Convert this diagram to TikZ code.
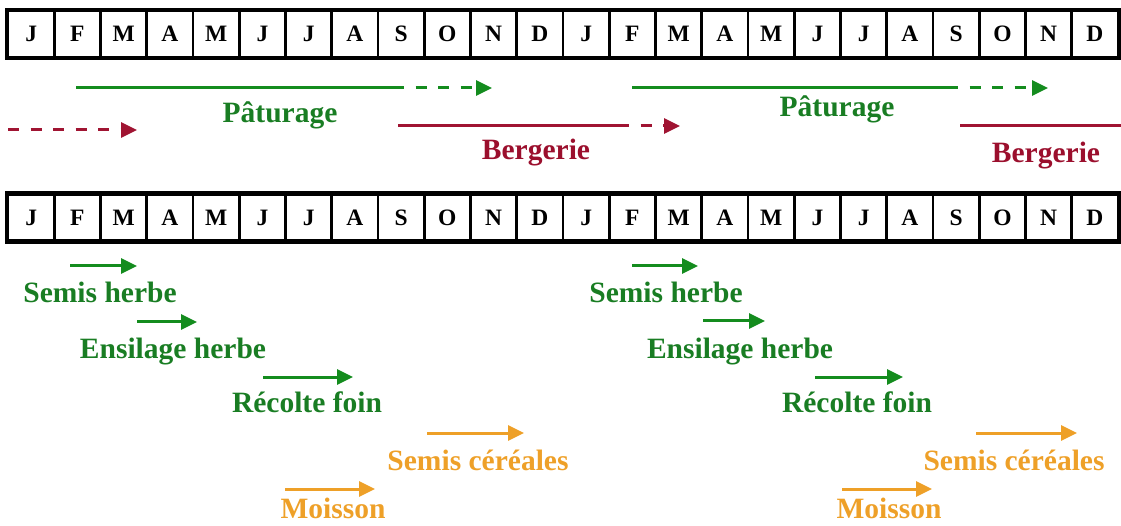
\documentclass[tikz,border=0pt]{standalone}
\usepackage{fontspec}
\setmainfont{Liberation Serif}
\usetikzlibrary{arrows.meta}
\definecolor{gtext}{RGB}{25,125,35}
\definecolor{garrow}{RGB}{20,140,30}
\definecolor{rtext}{RGB}{155,15,45}
\definecolor{rarrow}{RGB}{160,20,50}
\definecolor{orng}{RGB}{238,160,40}
\tikzset{
  month/.style={draw=black, line width=2.8pt, fill=white, minimum width=46.25pt, minimum height=46pt, inner sep=0pt, font=\fontsize{23.5}{24}\selectfont\bfseries},
  lbl/.style={anchor=base, inner sep=0pt, font=\fontsize{29.5}{30}\selectfont\bfseries},
  tip/.style={-{Triangle[length=16pt,width=15pt]}},
  arr/.style={line width=3pt, tip},
  plain/.style={line width=3pt},
  dsh/.style={line width=3pt, dash pattern=on 11pt off 11.5pt},
}
\begin{document}
\begin{tikzpicture}[x=1pt,y=-1pt]
\useasboundingbox (0,0) rectangle (1121,526);
% month bars
\foreach \m [count=\i] in {J,F,M,A,M,J,J,A,S,O,N,D,J,F,M,A,M,J,J,A,S,O,N,D}{
  \node[month] (t\i) at ({8+46.25*(\i-0.5)},34) {\m};
  \node[month] (b\i) at ({8+46.25*(\i-0.5)},217.5) {\m};
}
\draw[line width=3.4pt] (t1.north west) rectangle (t24.south east);
\draw[line width=3.4pt] (b1.north west) rectangle (b24.south east);

% top section coordinates
\coordinate (p1a) at (76,88);  \coordinate (p1b) at (393,88);  \coordinate (p1c) at (492,88);
\coordinate (p2a) at (632,88); \coordinate (p2b) at (947,88);  \coordinate (p2c) at (1048,88);
\coordinate (r0a) at (8,130);  \coordinate (r0b) at (137,130);
\coordinate (r1a) at (398,126); \coordinate (r1b) at (618,126); \coordinate (r1c) at (680,126);
\coordinate (r2a) at (960,126); \coordinate (r2b) at (1121,126);

\draw[plain, garrow] (p1a) -- (p1b);
\draw[dsh, garrow, tip] (p1b) -- (p1c);
\draw[plain, garrow] (p2a) -- (p2b);
\draw[dsh, garrow, tip] (p2b) -- (p2c);
\draw[dsh, rarrow, tip] (r0a) -- (r0b);
\draw[plain, rarrow] (r1a) -- (r1b);
\draw[dsh, rarrow, tip] (r1b) -- (r1c);
\draw[plain, rarrow] (r2a) -- (r2b);

\node[lbl, gtext] (pat1) at (280,123) {Pâturage};
\node[lbl, gtext] (pat2) at (837,117) {Pâturage};
\node[lbl, rtext] (ber1) at (536,160) {Bergerie};
\node[lbl, rtext] (ber2) at (1046,163) {Bergerie};

% bottom section arrows
\coordinate (sh1a) at (70,266);  \coordinate (sh1b) at (137,266);
\coordinate (eh1a) at (137,322); \coordinate (eh1b) at (197,322);
\coordinate (rf1a) at (263,377); \coordinate (rf1b) at (353,377);
\coordinate (sc1a) at (427,433); \coordinate (sc1b) at (524,433);
\coordinate (mo1a) at (285,489); \coordinate (mo1b) at (375,489);
\coordinate (sh2a) at (632,266); \coordinate (sh2b) at (698,266);
\coordinate (eh2a) at (703,321); \coordinate (eh2b) at (765,321);
\coordinate (rf2a) at (815,377); \coordinate (rf2b) at (903,377);
\coordinate (sc2a) at (976,433); \coordinate (sc2b) at (1077,433);
\coordinate (mo2a) at (842,489); \coordinate (mo2b) at (932,489);

\draw[arr, garrow] (sh1a) -- (sh1b);
\draw[arr, garrow] (eh1a) -- (eh1b);
\draw[arr, garrow] (rf1a) -- (rf1b);
\draw[arr, orng] (sc1a) -- (sc1b);
\draw[arr, orng] (mo1a) -- (mo1b);
\draw[arr, garrow] (sh2a) -- (sh2b);
\draw[arr, garrow] (eh2a) -- (eh2b);
\draw[arr, garrow] (rf2a) -- (rf2b);
\draw[arr, orng] (sc2a) -- (sc2b);
\draw[arr, orng] (mo2a) -- (mo2b);

\node[lbl, gtext] (shl1) at (100,303) {Semis herbe};
\node[lbl, gtext] (ehl1) at (173,358) {Ensilage herbe};
\node[lbl, gtext] (rfl1) at (307,412) {Récolte foin};
\node[lbl, orng] (scl1) at (478,470) {Semis céréales};
\node[lbl, orng] (mol1) at (333,518) {Moisson};
\node[lbl, gtext] (shl2) at (666,303) {Semis herbe};
\node[lbl, gtext] (ehl2) at (740,358) {Ensilage herbe};
\node[lbl, gtext] (rfl2) at (857,412) {Récolte foin};
\node[lbl, orng] (scl2) at (1014,470) {Semis céréales};
\node[lbl, orng] (mol2) at (889,518) {Moisson};
\end{tikzpicture}
\end{document}
